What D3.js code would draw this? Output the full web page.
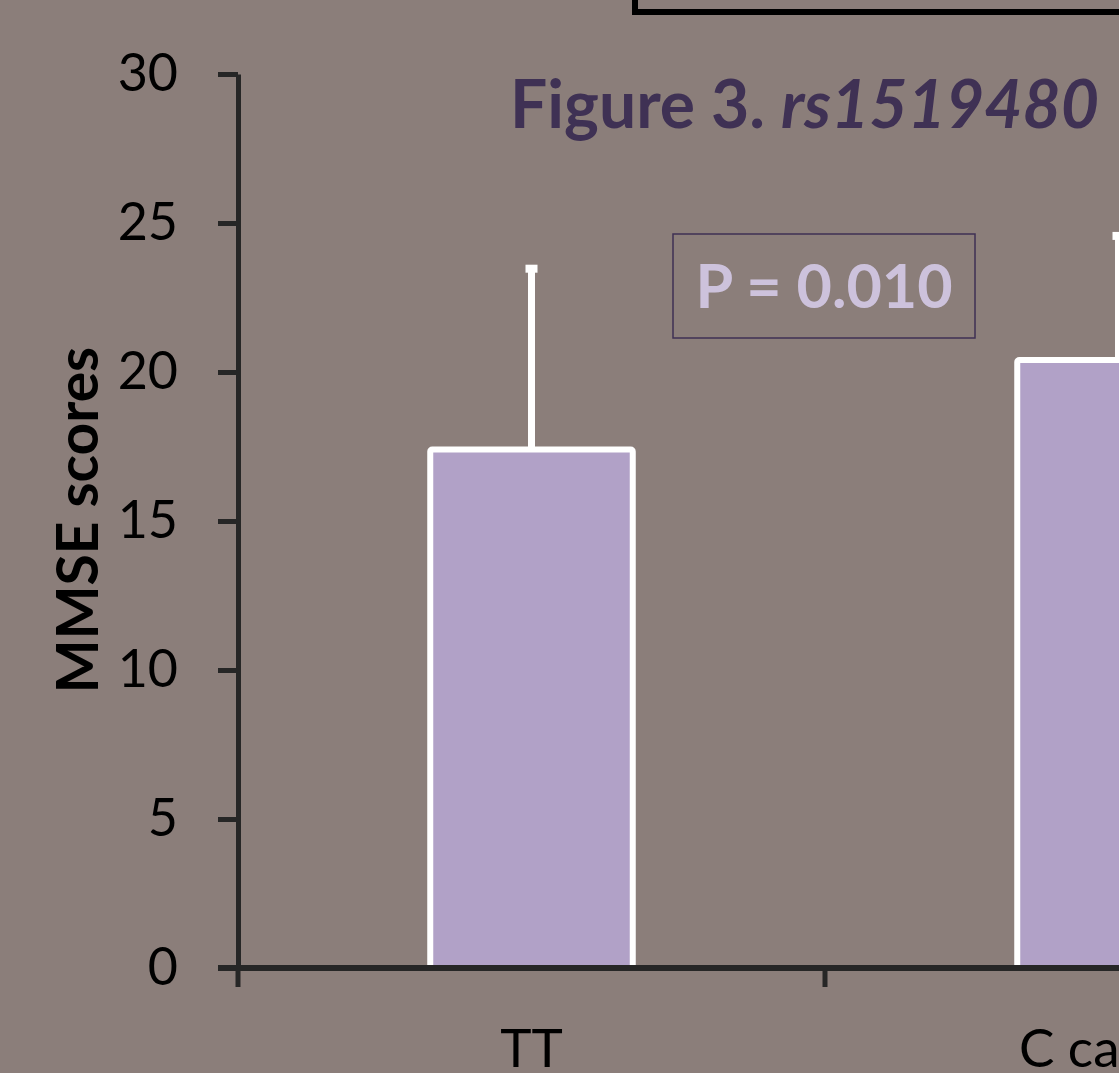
<!DOCTYPE html>
<html>
<head>
<meta charset="utf-8">
<script src="https://cdn.jsdelivr.net/npm/d3@7"></script>
<style>
  body { margin: 0; background: #8b7e7a; }
  svg { display: block; }
</style>
</head>
<body>
<div id="chart"></div>
<script>
// data
var categories = ["TT", "C carrier"];
var means = [17.4, 20.4];
var sds = [6.1, 4.2];
var yTicks = [0, 5, 10, 15, 20, 25, 30];

var width = 1119, height = 1073;
var plotLeft = 238, plotTop = 74, plotBottom = 968;
var step = 587;

var svg = d3.select("#chart").append("svg")
  .attr("width", width)
  .attr("height", height);

svg.append("rect")
  .attr("width", width).attr("height", height)
  .attr("fill", "#8b7e7a");

// box at the top (cut off)
svg.append("rect")
  .attr("x", 635).attr("y", -100)
  .attr("width", 800).attr("height", 112)
  .attr("fill", "none")
  .attr("stroke", "#000")
  .attr("stroke-width", 6);

var x = d3.scaleBand()
  .domain(categories)
  .range([plotLeft, plotLeft + step * categories.length]);

var y = d3.scaleLinear()
  .domain([0, 30])
  .range([plotBottom, plotTop]);

var barW = x.bandwidth() * 0.345;

// error bars (drawn behind bars)
svg.selectAll(".err")
  .data(categories)
  .enter().append("line")
  .attr("class", "err")
  .attr("x1", function(d) { return x(d) + x.bandwidth() / 2; })
  .attr("x2", function(d) { return x(d) + x.bandwidth() / 2; })
  .attr("y1", function(d, i) { return y(means[i]); })
  .attr("y2", function(d, i) { return y(means[i] + sds[i]); })
  .attr("stroke", "#fff")
  .attr("stroke-width", 7);

svg.selectAll(".cap")
  .data(categories)
  .enter().append("rect")
  .attr("class", "cap")
  .attr("x", function(d) { return x(d) + x.bandwidth() / 2 - 6; })
  .attr("y", function(d, i) { return y(means[i] + sds[i]) - 3; })
  .attr("width", 12).attr("height", 8)
  .attr("fill", "#fff");

// bars
svg.selectAll(".bar")
  .data(categories)
  .enter().append("rect")
  .attr("class", "bar")
  .attr("x", function(d) { return x(d) + (x.bandwidth() - barW) / 2; })
  .attr("y", function(d, i) { return y(means[i]); })
  .attr("width", barW)
  .attr("height", function(d, i) { return plotBottom - y(means[i]); })
  .attr("rx", 2)
  .attr("fill", "#b1a1c7")
  .attr("stroke", "#fff")
  .attr("stroke-width", 6);

// y axis
var yAxis = svg.append("g")
  .attr("transform", "translate(" + plotLeft + ",0)")
  .call(d3.axisLeft(y).tickValues(yTicks).tickSize(20).tickSizeOuter(0).tickPadding(40));
yAxis.select(".domain").attr("stroke", "#262626").attr("stroke-width", 5);
yAxis.selectAll(".tick line").attr("stroke", "#262626").attr("stroke-width", 5);
yAxis.selectAll(".tick text")
  .attr("fill", "#000")
  .style("font-family", "Lato, 'Open Sans', sans-serif")
  .style("font-size", "52px");

// x axis
svg.append("line")
  .attr("x1", 218).attr("x2", width + 10)
  .attr("y1", plotBottom).attr("y2", plotBottom)
  .attr("stroke", "#262626").attr("stroke-width", 6);

var bounds = categories.map(function(d) { return x(d); });
svg.selectAll(".xtick")
  .data(bounds)
  .enter().append("line")
  .attr("class", "xtick")
  .attr("x1", function(d) { return d; })
  .attr("x2", function(d) { return d; })
  .attr("y1", plotBottom).attr("y2", plotBottom + 19)
  .attr("stroke", "#262626").attr("stroke-width", 5);

svg.selectAll(".xlabel")
  .data(categories)
  .enter().append("text")
  .attr("class", "xlabel")
  .attr("x", function(d) { return x(d) + x.bandwidth() / 2; })
  .attr("y", 1067)
  .attr("text-anchor", "middle")
  .style("font-family", "Lato, 'Open Sans', sans-serif")
  .style("font-size", "53px")
  .attr("fill", "#000")
  .text(function(d) { return d; });

// y axis title
svg.append("text")
  .attr("transform", "translate(98,520) rotate(-90)")
  .attr("text-anchor", "middle")
  .style("font-family", "Lato, 'Open Sans', sans-serif")
  .style("font-weight", "bold")
  .style("font-size", "57px")
  .attr("fill", "#000")
  .text("MMSE scores");

// title
var title = svg.append("text")
  .attr("x", 510).attr("y", 128)
  .style("font-family", "Lato, 'Open Sans', sans-serif")
  .style("font-weight", "bold")
  .style("font-size", "66px")
  .attr("fill", "#3f3154");
title.append("tspan").text("Figure 3. ");
title.append("tspan").style("font-style", "italic").text("rs1519480");

// p-value box
svg.append("rect")
  .attr("x", 673).attr("y", 234)
  .attr("width", 302).attr("height", 104)
  .attr("fill", "none")
  .attr("stroke", "#3f3154")
  .attr("stroke-width", 1.5);

svg.append("text")
  .attr("x", 824).attr("y", 308)
  .attr("text-anchor", "middle")
  .style("font-family", "Lato, 'Open Sans', sans-serif")
  .style("font-weight", "bold")
  .style("font-size", "61px")
  .attr("fill", "#cdc2dc")
  .text("P = 0.010");
</script>
</body>
</html>
